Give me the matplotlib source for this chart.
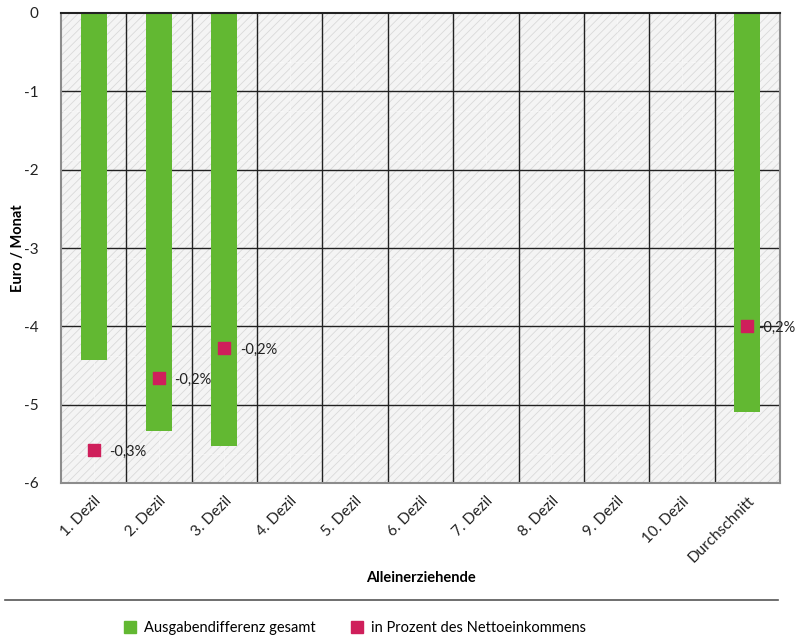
import matplotlib
matplotlib.use("Agg")
import matplotlib.pyplot as plt
from matplotlib.patches import Rectangle
from matplotlib.lines import Line2D
import numpy as np

plt.rcParams['font.family'] = ['Lato', 'DejaVu Sans']
plt.rcParams['hatch.linewidth'] = 0.6

categories = ["1. Dezil", "2. Dezil", "3. Dezil", "4. Dezil", "5. Dezil", "6. Dezil",
              "7. Dezil", "8. Dezil", "9. Dezil", "10. Dezil", "Durchschnitt"]
ausgabendifferenz = [-4.43, -5.33, -5.53, None, None, None, None, None, None, None, -5.10]
prozent_netto = [-0.279, -0.233, -0.214, None, None, None, None, None, None, None, -0.200]

green = "#62b832"
pink = "#cf1f5b"

fig = plt.figure(figsize=(7.97, 6.43), dpi=100)
ax = fig.add_axes([61/797, 1-483/643, 719/797, 470/643])

x = np.arange(len(categories))
ax.set_xlim(-0.5, len(categories) - 0.5)
ax.set_ylim(-6, 0)

# hatched plot background
ax.set_facecolor("#f4f4f4")
ax.add_patch(Rectangle((0, 0), 1, 1, transform=ax.transAxes, facecolor="none",
                       edgecolor="#d9d9d9", hatch="////", linewidth=0, zorder=0))

# faint minor grid
for yv in np.arange(-0.625, -6, -0.625):
    ax.axhline(yv, color="white", lw=0.8, ls=(0, (4, 3)), alpha=0.45, zorder=0.5)
for xv in x:
    ax.axvline(xv, color="white", lw=0.8, ls=(0, (4, 3)), alpha=0.45, zorder=0.5)

# major grid
for yv in range(-5, 0):
    ax.axhline(yv, color="#222222", lw=1.0, zorder=1)
for xv in np.arange(0.5, len(categories) - 1, 1):
    ax.axvline(xv, color="#222222", lw=1.0, zorder=1)

bx = [xi for xi, v in zip(x, ausgabendifferenz) if v is not None]
bv = [v for v in ausgabendifferenz if v is not None]
ax.bar(bx, bv, width=0.4, color=green, zorder=2)

# percentages on a hidden secondary scale
ax2 = ax.twinx()
ax2.set_ylim(-0.3, 0)
ax2.axis("off")
px = [xi for xi, v in zip(x, prozent_netto) if v is not None]
pv = [v for v in prozent_netto if v is not None]
ax2.scatter(px, pv, marker="s", s=80, color=pink, zorder=3)
for i, (xi, v) in enumerate(zip(px, pv)):
    dx = 8 if i == len(px) - 1 else 11
    ax2.annotate(f"{v:.1f}%".replace(".", ","), (xi, v), xytext=(dx, -1),
                 textcoords="offset points", ha="left", va="center",
                 fontsize=10.5, color="#222222", annotation_clip=False)

ax.set_yticks(range(-6, 1))
ax.set_yticklabels([str(v) for v in range(-6, 1)])
ax.set_xticks(x)
ax.set_xticklabels(categories, rotation=45, ha="right", rotation_mode="anchor")
ax.tick_params(axis="both", length=0, labelsize=11, colors="#222222")
ax.tick_params(axis="x", pad=8)
ax.tick_params(axis="y", pad=16)

for side in ["left", "bottom", "right"]:
    ax.spines[side].set_color("#8c8c8c")
    ax.spines[side].set_linewidth(1.5)
ax.spines["top"].set_color("#222222")
ax.spines["top"].set_linewidth(1.5)

ax.set_ylabel("Euro / Monat", fontsize=10.5, fontweight="bold")
ax.yaxis.set_label_coords((25 - 61) / 719, 0.5)
ax.set_xlabel("Alleinerziehende", fontsize=10.5, fontweight="bold")
ax.xaxis.set_label_coords(0.5, -(571 - 483) / 470)

fig.add_artist(Line2D([5/797, 778/797], [1-600/643, 1-600/643], color="#555555", lw=1.2))

handles = [Line2D([], [], marker="s", ls="none", color=green, markersize=8),
           Line2D([], [], marker="s", ls="none", color=pink, markersize=8)]
fig.legend(handles, ["Ausgabendifferenz gesamt", "in Prozent des Nettoeinkommens"],
           loc="center", bbox_to_anchor=(0.44, 1-628/643), ncol=2, frameon=False,
           fontsize=10.5, handletextpad=0.0, columnspacing=1.8)

fig.savefig("out.png", dpi=100)
